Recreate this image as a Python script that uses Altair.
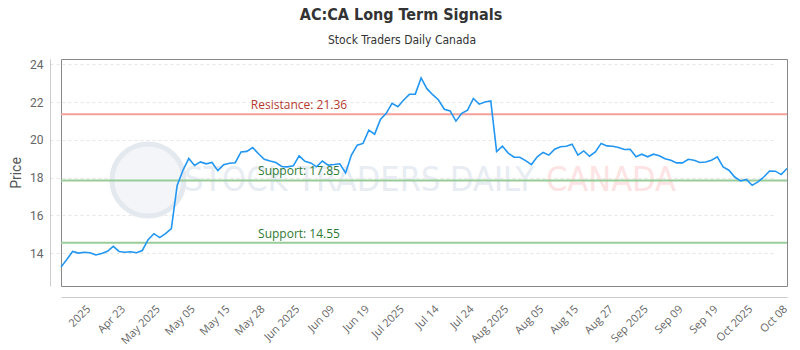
import altair as alt
import pandas as pd

# ---- data ----
prices = [
    13.26, 13.66, 14.09, 14.00, 14.05, 14.02, 13.90, 13.98, 14.10, 14.36,
    14.09, 14.05, 14.07, 14.02, 14.14, 14.71, 15.03, 14.82, 15.03, 15.30,
    17.59, 18.39, 19.01, 18.64, 18.83, 18.73, 18.80, 18.37, 18.68, 18.76,
    18.79, 19.36, 19.39, 19.59, 19.26, 18.97, 18.88, 18.80, 18.59, 18.57,
    18.62, 19.15, 18.86, 18.78, 18.57, 18.88, 18.66, 18.69, 18.73, 18.25,
    19.19, 19.72, 19.81, 20.51, 20.30, 21.08, 21.40, 21.93, 21.75, 22.11,
    22.41, 22.42, 23.28, 22.71, 22.39, 22.11, 21.62, 21.53, 20.99, 21.40,
    21.57, 22.19, 21.89, 22.00, 22.06, 19.38, 19.67, 19.30, 19.08, 19.08,
    18.90, 18.69, 19.10, 19.33, 19.19, 19.50, 19.63, 19.66, 19.77, 19.19,
    19.41, 19.13, 19.36, 19.81, 19.68, 19.66, 19.59, 19.49, 19.50, 19.10,
    19.24, 19.10, 19.24, 19.16, 19.00, 18.92, 18.78, 18.78, 18.97, 18.92,
    18.80, 18.83, 18.92, 19.10, 18.57, 18.39, 18.03, 17.82, 17.90, 17.59,
    17.77, 18.03, 18.35, 18.34, 18.16, 18.48,
]
tick_labels = ["2025", "Apr 23", "May 2025", "May 05", "May 15", "May 28",
               "Jun 2025", "Jun 09", "Jun 19", "Jul 2025", "Jul 14", "Jul 24",
               "Aug 2025", "Aug 05", "Aug 15", "Aug 27", "Sep 2025", "Sep 09",
               "Sep 19", "Oct 2025", "Oct 08"]
tick_index = [4 + 6 * k for k in range(len(tick_labels))]
level_values = [21.36, 17.85, 14.55]
level_names = ["Resistance", "Support", "Support"]
level_line_colors = ["#f4a19b", "#98cc98", "#98cc98"]
level_text_colors = ["#b53a31", "#2e7a34", "#2e7a34"]
y_ticks = [14, 16, 18, 20, 22, 24]

df = pd.DataFrame({"i": list(range(len(prices))), "price": prices})
lv = pd.DataFrame({
    "level": level_values,
    "label": [f"{n}: {v:.2f}" for n, v in zip(level_names, level_values)],
    "lc": level_line_colors,
    "tc": level_text_colors,
})
one = pd.DataFrame({"a": [0]})

W, H = 726, 227
ymin, ymax = min(prices) - 1, max(prices) + 1
x_scale = alt.Scale(domain=[0, len(prices) - 1], nice=False, zero=False)
y_scale = alt.Scale(domain=[ymin, ymax], nice=False, zero=False)

label_arr = "[" + ",".join(f"'{t}'" for t in tick_labels) + "]"
label_expr = f"{label_arr}[round((datum.value-4)/6)]"

FONT = "Open Sans"
COND = "'DejaVu Sans Condensed', 'Roboto', sans-serif"

# watermark
wm_circle = alt.Chart(one).mark_point(
    shape="circle", size=5200, filled=True, fill="#f3f5f9", stroke="#e4e8ef",
    strokeWidth=5, opacity=1
).encode(x=alt.value(87), y=alt.value(121))
wm_text1 = alt.Chart(one).mark_text(
    text="STOCK TRADERS DAILY", font=COND, fontSize=34,
    color="#e8ecf3", align="left", baseline="middle"
).encode(x=alt.value(123), y=alt.value(122))
wm_text2 = alt.Chart(one).mark_text(
    text="CANADA", font=COND, fontSize=34,
    color="#fde3e3", align="left", baseline="middle"
).encode(x=alt.value(485), y=alt.value(122))

rules = alt.Chart(lv).mark_rule(strokeWidth=2).encode(
    y=alt.Y("level:Q", scale=y_scale, title="Price"),
    color=alt.Color("lc:N", scale=None),
)
rule_text = alt.Chart(lv).mark_text(
    fontSize=12, font=FONT, dy=-9, align="center", baseline="middle"
).encode(
    x=alt.value(238),
    y=alt.Y("level:Q", scale=y_scale, title="Price"),
    text="label:N",
    color=alt.Color("tc:N", scale=None),
)

line = alt.Chart(df).mark_line(color="#2196f3", strokeWidth=1.6).encode(
    x=alt.X("i:Q", scale=x_scale, title=None,
            axis=alt.Axis(values=tick_index, labelExpr=label_expr)),
    y=alt.Y("price:Q", scale=y_scale, title="Price",
            axis=alt.Axis(values=y_ticks)),
)

title = alt.Chart(one).mark_text(
    text="AC:CA Long Term Signals", font=COND, fontSize=16,
    fontWeight="bold", color="#333333", align="center", baseline="middle"
).encode(x=alt.value(340), y=alt.value(-44))
subtitle = alt.Chart(one).mark_text(
    text="Stock Traders Daily Canada", font=COND, fontSize=12,
    color="#333333", align="center", baseline="middle"
).encode(x=alt.value(341), y=alt.value(-19))

chart = alt.layer(
    wm_circle, wm_text1, wm_text2, rules, rule_text, line, title, subtitle
).properties(
    width=W, height=H,
    autosize=alt.AutoSizeParams(type="none"),
    padding={"left": 61, "top": 59, "right": 13, "bottom": 64},
    background="white",
).configure_view(
    stroke="#888888", strokeWidth=1
).configure_axisX(
    labelAngle=-45, offset=11, domainColor="#cccccc", ticks=False,
    labelPadding=6, labelFont=FONT, labelFontSize=11, labelColor="#666666",
    grid=False, labelOverlap=False, labelBound=False, labelFlush=False
).configure_axisY(
    offset=11, domainColor="#cccccc", ticks=False, labelPadding=7,
    labelFont="Roboto", labelFontSize=12, labelColor="#666666",
    titleFont="Roboto", titleFontSize=14, titleFontWeight="normal",
    titleColor="#555555", titlePadding=6, grid=True, gridColor="#e6e6e6",
    gridDash=[3, 3], gridWidth=1
)

chart.save("out.html", embed_options={"renderer": "svg", "actions": False})
